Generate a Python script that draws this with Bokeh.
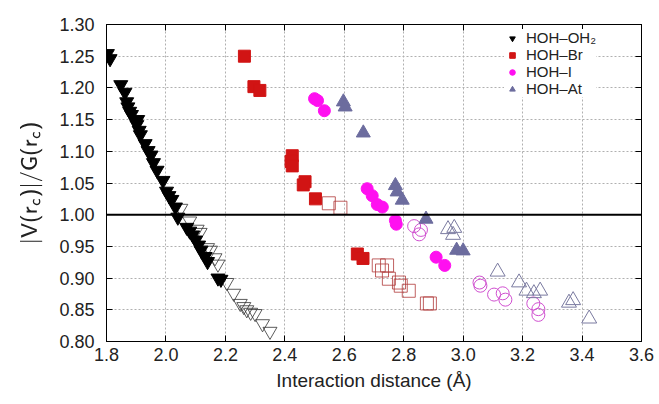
from bokeh.plotting import figure
from bokeh.models import (Range1d, FixedTicker, LinearAxis, Span, Legend, LegendItem,
                          PrintfTickFormatter)
from bokeh.embed import file_html
from bokeh.resources import INLINE

# ---------------- data ----------------
oh2_fill_x = [1.803, 1.812, 1.848, 1.862, 1.868, 1.872, 1.878, 1.884, 1.905, 1.902, 1.910, 1.914,
              1.930, 1.940, 1.950, 1.958, 1.970, 1.990, 2.002, 2.010, 2.020, 2.032, 2.040, 2.070,
              2.080, 2.090, 2.100, 2.110, 2.118, 2.132, 2.140, 2.175, 2.185]
oh2_fill_y = [1.254, 1.246, 1.205, 1.193, 1.178, 1.170, 1.163, 1.158, 1.150, 1.142, 1.133, 1.126,
              1.112, 1.101, 1.094, 1.082, 1.070, 1.054, 1.037, 1.030, 1.024, 1.012, 0.996, 0.980,
              0.974, 0.968, 0.960, 0.952, 0.944, 0.934, 0.926, 0.900, 0.898]
oh2_open_x = [2.050, 2.080, 2.105, 2.115, 2.140, 2.150, 2.165, 2.175, 2.205, 2.228, 2.250, 2.262,
              2.272, 2.285, 2.300, 2.325, 2.350]
oh2_open_y = [1.010, 0.990, 0.977, 0.972, 0.948, 0.944, 0.932, 0.922, 0.893, 0.876, 0.860, 0.855,
              0.850, 0.846, 0.844, 0.828, 0.816]

br_fill_x = [2.264, 2.296, 2.316, 2.425, 2.421, 2.425, 2.468, 2.462, 2.503, 2.644, 2.663]
br_fill_y = [1.250, 1.202, 1.196, 1.093, 1.084, 1.077, 1.052, 1.047, 1.025, 0.938, 0.931]
br_open_x = [2.548, 2.587, 2.716, 2.744, 2.727, 2.750, 2.784, 2.790, 2.817, 2.878, 2.888]
br_open_y = [1.018, 1.011, 0.920, 0.920, 0.912, 0.899, 0.893, 0.888, 0.880, 0.860, 0.860]

i_fill_x = [2.500, 2.510, 2.533, 2.677, 2.694, 2.711, 2.728, 2.772, 2.775, 2.909, 2.938]
i_fill_y = [1.183, 1.180, 1.164, 1.041, 1.030, 1.016, 1.012, 0.991, 0.985, 0.933, 0.920]
i_open_x = [2.835, 2.858, 2.852, 3.055, 3.058, 3.104, 3.133, 3.142, 3.236, 3.253, 3.253]
i_open_y = [0.982, 0.976, 0.969, 0.893, 0.888, 0.874, 0.876, 0.866, 0.860, 0.851, 0.842]

at_fill_x = [2.597, 2.603, 2.664, 2.772, 2.778, 2.795, 2.875, 2.978, 3.000]
at_fill_y = [1.178, 1.170, 1.129, 1.046, 1.036, 1.023, 0.993, 0.944, 0.943]
at_open_x = [2.949, 2.970, 2.966, 3.116, 3.188, 3.213, 3.238, 3.259, 3.356, 3.370, 3.424]
at_open_y = [0.977, 0.979, 0.968, 0.910, 0.893, 0.880, 0.876, 0.880, 0.861, 0.865, 0.836]

labels = ["HOH\u2013OH\u2082", "HOH\u2013Br", "HOH\u2013I", "HOH\u2013At"]
x_ticks = [1.8, 2.0, 2.2, 2.4, 2.6, 2.8, 3.0, 3.2, 3.4, 3.6]
y_ticks = [0.80, 0.85, 0.90, 0.95, 1.00, 1.05, 1.10, 1.15, 1.20, 1.25, 1.30]

FONT = "Liberation Sans"
TXT = "#222222"

p = figure(width=659, height=404, output_backend="svg", toolbar_location=None,
           x_range=Range1d(1.8, 3.6), y_range=Range1d(0.80, 1.30),
           min_border_left=106, min_border_right=18, min_border_top=24, min_border_bottom=63)
p.background_fill_color = "white"
p.border_fill_color = "white"
p.outline_line_color = "black"
p.outline_line_width = 1

for ax in (p.xaxis[0], p.yaxis[0]):
    ax.major_label_text_font = FONT
    ax.major_label_text_font_size = "18px"
    ax.major_label_text_color = TXT
    ax.axis_label_text_font = FONT
    ax.axis_label_text_font_size = "19px"
    ax.axis_label_text_font_style = "normal"
    ax.axis_label_text_color = TXT
    ax.major_tick_in = 6
    ax.major_tick_out = 0
    ax.minor_tick_in = 0
    ax.minor_tick_out = 0
    ax.axis_line_color = "black"
    ax.major_tick_line_color = "black"

p.xaxis.ticker = FixedTicker(ticks=x_ticks)
p.yaxis.ticker = FixedTicker(ticks=y_ticks)
p.xaxis.formatter = PrintfTickFormatter(format="%.1f")
p.yaxis.formatter = PrintfTickFormatter(format="%.2f")
p.xaxis.axis_label = "Interaction distance (\u00c5)"
p.yaxis.axis_label = r"$$\mathsf{|V(r_c)|/G(r_c)}$$"
p.xaxis.major_label_standoff = 6
p.yaxis.major_label_standoff = 12
p.xaxis.axis_label_standoff = 6
p.yaxis.axis_label_standoff = 14

# mirrored ticks (no labels)
for loc, tk in (("right", y_ticks), ("above", x_ticks)):
    a = LinearAxis(ticker=FixedTicker(ticks=tk), major_label_text_font_size="0px",
                   major_label_text_color=None, major_label_text_alpha=0,
                   major_tick_in=6, major_tick_out=0, minor_tick_in=0, minor_tick_out=0,
                   major_label_standoff=0, axis_line_color="black")
    p.add_layout(a, loc)

for g, tk in ((p.xgrid[0], x_ticks), (p.ygrid[0], y_ticks)):
    g.ticker = FixedTicker(ticks=tk)
    g.grid_line_color = "#b0b0b0"
    g.grid_line_dash = "2 2"
    g.grid_line_width = 1

p.add_layout(Span(location=1.0, dimension="width", line_color="black", line_width=2))

RED = "#d11414"
MAG = "#ff10f0"
SLATE = "#6c6c9e"

# open markers (drawn first)
p.scatter(oh2_open_x, oh2_open_y, marker="inverted_triangle", size=14, fill_color=None,
          line_color="#333333", line_width=1, line_alpha=0.8)
p.scatter(br_open_x, br_open_y, marker="square", size=13, fill_color=None,
          line_color="#b03a3a", line_width=1, line_alpha=0.8)
p.scatter(i_open_x, i_open_y, marker="circle", size=13, fill_color=None,
          line_color="#d050d0", line_width=1)
p.scatter(at_open_x, at_open_y, marker="triangle", size=15, fill_color=None,
          line_color="#7a7aa0", line_width=1)

r1 = p.scatter(oh2_fill_x, oh2_fill_y, marker="inverted_triangle", size=14,
               fill_color="black", line_color="black")
r2 = p.scatter(br_fill_x, br_fill_y, marker="square", size=12,
               fill_color=RED, line_color=RED)
r3 = p.scatter(i_fill_x, i_fill_y, marker="circle", size=12,
               fill_color=MAG, line_color=MAG)
r4 = p.scatter(at_fill_x, at_fill_y, marker="triangle", size=14,
               fill_color=SLATE, line_color=SLATE)

legend = Legend(items=[LegendItem(label=l, renderers=[r]) for l, r in zip(labels, [r1, r2, r3, r4])],
                location=(398, 244), border_line_color=None, background_fill_color="white",
                background_fill_alpha=1.0, label_text_font=FONT, label_text_font_size="15px",
                label_text_color=TXT, spacing=-4, padding=5, margin=0, label_height=14,
                glyph_height=14, glyph_width=16, label_standoff=6)
p.add_layout(legend)

open("out.html", "w").write(file_html(p, INLINE))
